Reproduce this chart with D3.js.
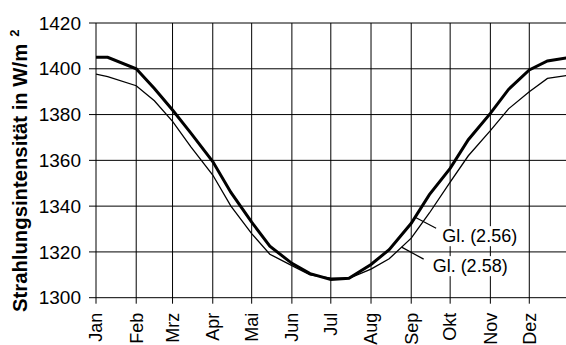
<!DOCTYPE html>
<html><head><meta charset="utf-8">
<script src="https://cdn.jsdelivr.net/npm/d3@7"></script>
<style>body{margin:0;background:#fff}svg{display:block}text{font-family:"Liberation Sans",Arial,sans-serif}</style>
</head><body><div id="chart"></div>
<script>
const months = ["Jan","Feb","Mrz","Apr","Mai","Jun","Jul","Aug","Sep","Okt","Nov","Dez"];
const monthDays = [0,31,59,90,120,151,181,212,243,273,304,334];
const yTicks = [1300,1320,1340,1360,1380,1400,1420];
const days = [0,9,31,45,59,73,90,104,120,134,151,165,181,195,212,226,243,257,273,287,304,318,334,348,365];
const gl256 = [1405,1405,1400,1391.4,1382,1372,1359.5,1346,1333,1322.5,1315,1310.5,1308,1308.5,1314.5,1321,1332.5,1345,1356.5,1369,1380.5,1391,1399.5,1403.4,1405];
const gl258 = [1397.7,1396.6,1392.6,1386,1377,1366,1353.6,1340,1328,1319,1314,1310,1308.5,1308.5,1312.5,1317,1326,1337,1350.5,1362,1373,1382.5,1390,1395.8,1397.2];
const labels = ["Gl. (2.56)","Gl. (2.58)"];

const W = 566, H = 345;
const svg = d3.select("#chart").append("svg").attr("width", W).attr("height", H);
const x = d3.scaleLinear().domain([0,365]).range([96, 569.5]);
const y = d3.scaleLinear().domain([1300,1420]).range([297.7, 23]);

svg.append("clipPath").attr("id","clip").append("rect")
  .attr("x", x(0)).attr("y", 0).attr("width", W - x(0)).attr("height", y(1300));

// horizontal gridlines + ticks
const g = svg.append("g");
g.selectAll("line.h").data(yTicks).join("line")
  .attr("x1", x(0) - 7).attr("x2", W)
  .attr("y1", d => y(d)).attr("y2", d => y(d))
  .attr("stroke", "#000").attr("stroke-width", 1);
// vertical gridlines + ticks
g.selectAll("line.v").data(monthDays).join("line")
  .attr("x1", d => x(d)).attr("x2", d => x(d))
  .attr("y1", y(1420)).attr("y2", y(1300) + 6)
  .attr("stroke", "#000").attr("stroke-width", 1);

// y tick labels
svg.selectAll("text.yt").data(yTicks).join("text")
  .attr("x", 81).attr("y", d => y(d)).attr("dy", "0.35em")
  .attr("text-anchor", "end").attr("font-size", 19).attr("fill", "#000")
  .text(d => d);

// x tick labels
svg.selectAll("text.xt").data(months).join("text")
  .attr("transform", (d,i) => `translate(${x(monthDays[i])},${y(1300)+15}) rotate(-90)`)
  .attr("dy", "0.35em").attr("text-anchor", "end").attr("font-size", 18).attr("fill", "#000")
  .text(d => d);

// y axis title
const t = svg.append("text")
  .attr("transform", `translate(27,312) rotate(-90)`)
  .attr("font-size", 20.3).attr("font-weight", "bold").attr("fill", "#000");
t.append("tspan").text("Strahlungsintensität in W/m");
t.append("tspan").attr("dx", 7).attr("dy", -8).attr("font-size", 13).text("2");

// curves
const line = d3.line().x((d,i) => x(days[i])).y(d => y(d));
const cg = svg.append("g").attr("clip-path", "url(#clip)");
cg.append("path").datum(gl258).attr("d", line).attr("fill","none").attr("stroke","#000").attr("stroke-width",1.3);
cg.append("path").datum(gl256).attr("d", line).attr("fill","none").attr("stroke","#000").attr("stroke-width",3);

// annotations
function interp(arr, d) {
  const i = d3.bisectRight(days, d) - 1;
  const t = (d - days[i]) / (days[i+1] - days[i]);
  return arr[i] + t * (arr[i+1] - arr[i]);
}
const ann = [
  {series: gl256, day: 246, dx: 21, dy: 11, tx: 6, ty: 14, label: labels[0]},
  {series: gl258, day: 235.6, dx: 22, dy: 12, tx: 9, ty: 13, label: labels[1]}
];
ann.forEach(a => {
  const x0 = x(a.day), y0 = y(interp(a.series, a.day));
  const x1 = x0 + a.dx, y1 = y0 + a.dy;
  const tx = x1 + a.tx, ty = y1 + a.ty;
  const txt = svg.append("text").attr("x", tx).attr("y", ty).attr("font-size", 18).attr("fill","#000").text(a.label);
  const bb = txt.node().getBBox();
  svg.insert("rect", "text:last-of-type").attr("x", bb.x - 2).attr("y", bb.y).attr("width", bb.width + 4).attr("height", bb.height).attr("fill","#fff");
  txt.raise();
  svg.append("line").attr("x1", x0).attr("y1", y0).attr("x2", x1).attr("y2", y1).attr("stroke","#000").attr("stroke-width",1.2);
});
</script></body></html>
